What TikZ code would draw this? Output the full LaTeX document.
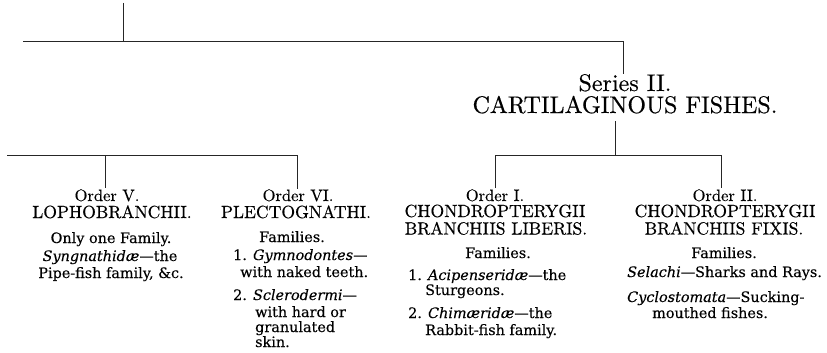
\documentclass[tikz,border=0pt]{standalone}
\usepackage{fontspec}
\newfontfamily\bodyfont{DejaVu Serif}[FakeBold=0.2]
\newfontfamily\headfont{lmroman10-regular.otf}[FakeBold=0.4]
\begin{document}
\begin{tikzpicture}[x=1pt,y=-1pt,
  conn/.style={line width=0.75pt, black!85},
  serstyle/.style={font=\headfont\fontsize{24}{24}\selectfont, inner sep=0pt, anchor=base},
  ordstyle/.style={font=\headfont\fontsize{16.5}{16.5}\selectfont, inner sep=0pt, anchor=base},
  capstyle/.style={font=\headfont\fontsize{17.6}{17.6}\selectfont, inner sep=0pt, anchor=base},
  bodyc/.style={font=\bodyfont\fontsize{14.4}{14.4}\selectfont, inner sep=0pt, anchor=base},
  bodyl/.style={bodyc, anchor=base west}]
\fill[white] (0,0) rectangle (827,353);
\useasboundingbox (0,0) rectangle (827,353);

% ---- junction coordinates ----
\coordinate (t0) at (123,3);
\coordinate (t1) at (123,41);
\coordinate (h1l) at (23,41);
\coordinate (h1r) at (623,41);
\coordinate (s0) at (623,74);
\coordinate (s1) at (615,121);
\coordinate (s2) at (615,155);
\coordinate (hRl) at (495,155);
\coordinate (hRr) at (721,155);
\coordinate (o1) at (495,188);
\coordinate (o2) at (721,188);
\coordinate (hLl) at (7,155);
\coordinate (hLr) at (297,155);
\coordinate (hL5) at (105,155);
\coordinate (o5) at (105,188);
\coordinate (o6) at (297,189);

% ---- Series II ----
\node[serstyle] (serA) at (625,91) {Series II.};
\node[serstyle] (serB) at (625,113) {CARTILAGINOUS FISHES.};

% ---- Order V ----
\node[ordstyle] (v1) at (107,201) {Order V.};
\node[capstyle] (v2) at (112,218) {LOPHOBRANCHII.};
\node[bodyc] (v3) at (111,243) {Only one Family.};
\node[bodyc] (v4) at (110,261) {\itshape Syngnathid\ae\upshape—the};
\node[bodyc] (v5) at (111,278) {Pipe-fish family, \&c.};

% ---- Order VI ----
\node[ordstyle] (w1) at (298,201) {Order VI.};
\node[capstyle] (w2) at (296,218) {PLECTOGNATHI.};
\node[bodyc] (w3) at (292,242) {Families.};
\node[bodyl] (w4) at (233,260) {1. \textit{Gymnodontes}—};
\node[bodyl] (w5) at (240,277) {with naked teeth.};
\node[bodyl] (w6) at (233,300) {2. \textit{Sclerodermi}—};
\node[bodyl] (w7) at (255,317) {with hard or};
\node[bodyl] (w8) at (255,332) {granulated};
\node[bodyl] (w9) at (255,347) {skin.};

% ---- Order I ----
\node[ordstyle] (i1) at (495,201) {Order I.};
\node[capstyle] (i2) at (495,217) {CHONDROPTERYGII};
\node[capstyle] (i3) at (496,234.5) {BRANCHIIS LIBERIS.};
\node[bodyc] (i4) at (498,258) {Families.};
\node[bodyl] (i5) at (408,280) {1. \textit{Acipenserid\ae}—the};
\node[bodyl] (i6) at (425,295) {Sturgeons.};
\node[bodyl] (i7) at (408,318) {2. \textit{Chim\ae rid\ae}—the};
\node[bodyl] (i8) at (425,335) {Rabbit-fish family.};

% ---- Order II ----
\node[ordstyle] (j1) at (725,201) {Order II.};
\node[capstyle] (j2) at (725,217) {CHONDROPTERYGII};
\node[capstyle] (j3) at (724,234.5) {BRANCHIIS FIXIS.};
\node[bodyc] (j4) at (724,258) {Families.};
\node[bodyl] (j5) at (627,277) {\textit{Selachi}—Sharks and Rays.};
\node[bodyl] (j6) at (627,302) {\textit{Cyclostomata}—Sucking-};
\node[bodyl] (j7) at (652,318) {mouthed fishes.};

% ---- connectors ----
\draw[conn] (t0) -- (t1);
\draw[conn] (h1l) -- (h1r) -- (s0);
\draw[conn] (s1) -- (s2);
\draw[conn] (o1) -- (hRl) -- (hRr) -- (o2);
\draw[conn] (hLl) -- (hLr) -- (o6);
\draw[conn] (hL5) -- (o5);
\end{tikzpicture}
\end{document}
